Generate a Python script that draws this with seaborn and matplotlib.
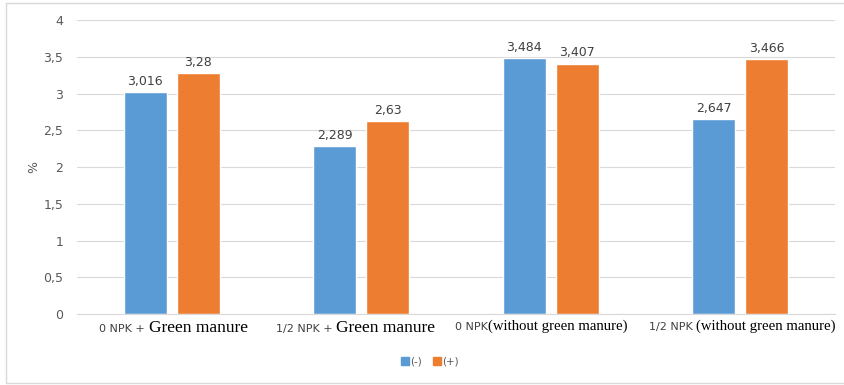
import matplotlib
matplotlib.use("Agg")
import matplotlib.pyplot as plt
from matplotlib.offsetbox import TextArea, HPacker, AnnotationBbox
from matplotlib.lines import Line2D
import seaborn as sns
import pandas as pd

# Treatments and measured values (%)
treatments = ["T1", "T2", "T3", "T4"]
series_names = ["(-)", "(+)"]
values_minus = [3.016, 2.289, 3.484, 2.647]
values_plus = [3.28, 2.63, 3.407, 3.466]
label_minus = ["3,016", "2,289", "3,484", "2,647"]
label_plus = ["3,28", "2,63", "3,407", "3,466"]
# Category labels: (small sans part, serif part)
cat_small = ["0 NPK + ", "1/2 NPK + ", "0 NPK", "1/2 NPK "]
cat_serif = ["Green manure", "Green manure", "(without green manure)", "(without green manure)"]
ytick_vals = [0, 0.5, 1, 1.5, 2, 2.5, 3, 3.5, 4]
ytick_labels = ["0", "0,5", "1", "1,5", "2", "2,5", "3", "3,5", "4"]

df = pd.DataFrame({
    "treatment": treatments * 2,
    "series": [series_names[0]] * 4 + [series_names[1]] * 4,
    "value": values_minus + values_plus,
})

sns.set_style("white")
plt.rcParams["font.family"] = ["DejaVu Sans"]

fig = plt.figure(figsize=(8.45, 3.85), dpi=100)
ax = fig.add_axes([0.0911, 0.1844, 0.897, 0.7636])

palette = {"(-)": "#5B9BD5", "(+)": "#ED7D31"}
sns.barplot(data=df, x="treatment", y="value", hue="series", palette=palette,
            width=0.56, gap=0.19, ax=ax, legend=False, saturation=1)

ax.set_ylim(0, 4)
ax.set_xlim(-0.5, 3.5)
ax.set_yticks(ytick_vals)
ax.set_yticklabels(ytick_labels, color="#595959", fontsize=9)
ax.yaxis.grid(True, color="#D9D9D9", linewidth=0.8)
ax.set_axisbelow(True)
ax.tick_params(axis="y", length=0, pad=10)
ax.tick_params(axis="x", length=0)
ax.set_xticks(range(4))
ax.set_xticklabels([""] * 4)
ax.set_xlabel("")
ax.set_ylabel("%", color="#595959", fontsize=9, labelpad=2)
for s in ["top", "right", "left"]:
    ax.spines[s].set_visible(False)
ax.spines["bottom"].set_color("#D9D9D9")

# Value labels above bars
for cont, labels in zip(ax.containers, [label_minus, label_plus]):
    ax.bar_label(cont, labels=labels, padding=3, fontsize=9, color="#404040")

# Mixed-font category labels (horizontal shift in points, serif size per label)
label_shift = [1.3, -4.3, -7.0, 1.4]
serif_size = [12.5, 12.5, 10.6, 10.6]
for i in range(4):
    parts = [
        TextArea(cat_small[i], textprops=dict(fontsize=8, color="#404040",
                                               family=["Liberation Sans Narrow", "DejaVu Sans"])),
        TextArea(cat_serif[i], textprops=dict(fontsize=serif_size[i], color="black",
                                               family=["Liberation Serif", "DejaVu Serif"])),
    ]
    box = HPacker(children=parts, align="baseline", pad=0, sep=0)
    ab = AnnotationBbox(box, (i, 0), xycoords=("data", "axes fraction"),
                        xybox=(label_shift[i], -4), boxcoords="offset points",
                        box_alignment=(0.5, 1), frameon=False, pad=0)
    ax.add_artist(ab)

# Legend below the plot
handles = [Line2D([0], [0], marker="s", linestyle="", markersize=6,
                  markerfacecolor=palette[n], markeredgecolor=palette[n]) for n in series_names]
fig.legend(handles, series_names, loc="center", bbox_to_anchor=(0.508, 0.06),
           ncol=2, frameon=False, fontsize=7.5, handletextpad=0.0, columnspacing=0.9,
           handlelength=1.0, labelcolor="#595959")

# Chart frame
frame_color = "#D9D9D9"
fig.add_artist(Line2D([0.007, 0.007], [0.005, 0.992], color=frame_color, lw=1))
fig.add_artist(Line2D([0.007, 1.0], [0.992, 0.992], color=frame_color, lw=1))
fig.add_artist(Line2D([0.007, 1.0], [0.005, 0.005], color=frame_color, lw=1))

fig.savefig("out.png", dpi=100, facecolor="white")
